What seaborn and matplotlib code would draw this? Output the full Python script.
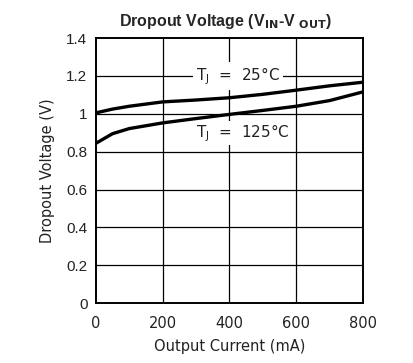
import matplotlib
matplotlib.use("Agg")
import matplotlib.pyplot as plt
import seaborn as sns
import pandas as pd

current = [0, 50, 100, 200, 300, 400, 500, 600, 700, 800]
v_25c = [1.005, 1.025, 1.04, 1.063, 1.073, 1.085, 1.103, 1.125, 1.148, 1.167]
v_125c = [0.844, 0.895, 0.922, 0.952, 0.975, 0.997, 1.018, 1.04, 1.07, 1.116]
x_ticks = [0, 200, 400, 600, 800]
y_ticks = [0, 0.2, 0.4, 0.6, 0.8, 1.0, 1.2, 1.4]
y_tick_labels = ["0", "0.2", "0.4", "0.6", "0.8", "1", "1.2", "1.4"]

sns.set_theme(style="white")
plt.rcParams["font.family"] = ["DejaVu Sans"]

df = pd.DataFrame({
    "current": current * 2,
    "voltage": v_25c + v_125c,
    "temp": ["25"] * len(current) + ["125"] * len(current),
})

fig = plt.figure(figsize=(4.13, 3.63), dpi=100)
ax = fig.add_axes([0.232, 0.165, 0.647, 0.730])

for y in y_ticks[1:-1]:
    ax.axhline(y, color="black", lw=0.9, zorder=1)
for x in x_ticks[1:-1]:
    ax.axvline(x, color="black", lw=0.9, zorder=1)

sns.lineplot(data=df, x="current", y="voltage", units="temp", estimator=None,
             color="black", lw=2.4, ax=ax, zorder=3, legend=False)

ax.set_xlim(0, 800)
ax.set_ylim(0, 1.4)
ax.set_xticks(x_ticks)
ax.set_yticks(y_ticks)
ax.set_yticklabels(y_tick_labels, family="Liberation Sans", fontsize=11, color="#222222")
ax.set_xticklabels([str(v) for v in x_ticks], fontsize=10.5, color="#222222")
ax.tick_params(axis="both", length=0, pad=6)
ax.tick_params(axis="x", pad=9)

for s in ax.spines.values():
    s.set_color("black")
    s.set_linewidth(1.4)
    s.set_visible(True)

ax.set_xlabel("Output Current (mA)", fontsize=10.5, color="#222222", labelpad=6)
ax.set_ylabel("Dropout Voltage (V)", fontsize=10.5, color="#222222", labelpad=8)

ax.text(425, 1.2, r"T$_\mathregular{J}$  =  25°C", ha="center", va="center",
        fontsize=11, color="#222222", zorder=4,
        bbox=dict(facecolor="white", edgecolor="none", pad=2))
ax.text(440, 0.9, r"T$_\mathregular{J}$  =  125°C", ha="center", va="center",
        fontsize=11, color="#222222", zorder=4,
        bbox=dict(facecolor="white", edgecolor="none", pad=1))

fig.text(0.545, 0.94, r"Dropout Voltage (V$_{\mathbf{IN}}$-V $_{\mathbf{OUT}}$)",
         ha="center", va="center", fontsize=11.5, fontweight="bold",
         family="Liberation Sans")

fig.savefig("out.png", dpi=100)
